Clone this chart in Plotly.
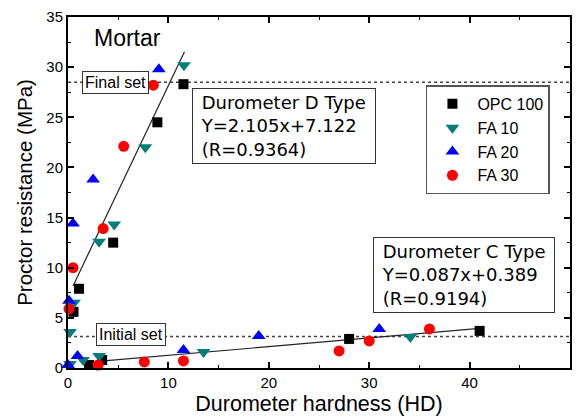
import plotly.graph_objects as go

# ---- data ----
opc100_x = [11.5, 8.9, 4.5, 1.1, 0.55, 2.1, 3.4, 28.0, 41.0]
opc100_y = [28.3, 24.5, 12.5, 7.9, 5.6, 0.3, 0.8, 2.9, 3.7]

fa10_x = [11.55, 7.7, 4.6, 3.1, 0.6, 0.2, 0.2, 1.5, 3.1, 13.5, 34.1]
fa10_y = [30.2, 22.0, 14.3, 12.6, 6.5, 3.6, 0.4, 0.8, 1.2, 1.6, 3.1]

fa20_x = [9.05, 2.5, 0.5, 0.1, 0.0, 0.95, 11.5, 19.0, 31.0]
fa20_y = [29.8, 18.8, 14.4, 6.7, 0.3, 1.2, 1.8, 3.2, 3.9]

fa30_x = [8.5, 5.55, 3.5, 0.5, 0.1, 3.0, 7.6, 11.5, 27.0, 30.0, 36.0]
fa30_y = [28.2, 22.1, 13.9, 10.0, 5.9, 0.3, 0.6, 0.7, 1.7, 2.7, 3.9]

# regression fits (slope, intercept, x-range)
d_fit = (2.105, 7.122, [0.5, 11.6])
c_fit = (0.087, 0.389, [3.3, 41.0])

final_set = 28.5
initial_set = 3.15

x_ticks = [0, 10, 20, 30, 40, 50]
y_ticks = [0, 5, 10, 15, 20, 25, 30, 35]

NARROW = "Liberation Sans, Arial, sans-serif"
PLAIN = "Liberation Sans, Arial, sans-serif"
BOXF = "DejaVu Sans, Verdana, sans-serif"
SP = "\u00a0"

fig = go.Figure()

# reference lines
fig.add_trace(go.Scatter(x=[0, 50], y=[final_set, final_set], mode="lines",
                         line=dict(color="#444", width=1.5, dash="dot"),
                         showlegend=False, hoverinfo="skip"))
fig.add_trace(go.Scatter(x=[0, 50], y=[initial_set, initial_set], mode="lines",
                         line=dict(color="#444", width=1.5, dash="dot"),
                         showlegend=False, hoverinfo="skip"))

# fit lines
for slope, icpt, xr in (d_fit, c_fit):
    fig.add_trace(go.Scatter(x=xr, y=[slope * v + icpt for v in xr], mode="lines",
                             line=dict(color="#222", width=1.2),
                             showlegend=False, hoverinfo="skip"))

series = [
    ("OPC 100", opc100_x, opc100_y, "square", "#000000", 10),
    ("FA 10", fa10_x, fa10_y, "triangle-down", "#007f7a", 12),
    ("FA 20", fa20_x, fa20_y, "triangle-up", "#0000ff", 12),
    ("FA 30", fa30_x, fa30_y, "circle", "#ff0000", 11),
]
for name, xs, ys, sym, col, sz in series:
    fig.add_trace(go.Scatter(x=xs, y=ys, mode="markers", name=name,
                             marker=dict(symbol=sym, color=col, size=sz, line=dict(width=0)),
                             cliponaxis=False))

axis_common = dict(showline=True, linecolor="black", linewidth=2, mirror="allticks",
                   ticks="inside", ticklen=6, tickwidth=1.5, tickcolor="black",
                   showgrid=False, zeroline=False, automargin=False,
                   tickfont=dict(family=PLAIN, size=15, color="black"))

fig.update_xaxes(range=[0, 50], tickvals=x_ticks,
                 minor=dict(ticks="inside", ticklen=3, dtick=5, tickcolor="black", tickwidth=1.2),
                 title=dict(text="Durometer hardness (HD)", font=dict(family=NARROW, size=21.5, color="black"),
                            standoff=6),
                 **axis_common)
fig.update_yaxes(range=[0, 35], tickvals=y_ticks,
                 minor=dict(ticks="inside", ticklen=3, dtick=2.5, tickcolor="black", tickwidth=1.2),
                 title=dict(text="Proctor resistance (MPa)", font=dict(family=NARROW, size=20.5, color="black"),
                            standoff=8),
                 **axis_common)


def box_text(lines):
    return "<br>".join(SP + ln + SP for ln in lines)


annos = [
    dict(x=4.7, y=28.46, text="Final set", xanchor="center", yanchor="middle",
         font=dict(family=NARROW, size=16, color="black"), bgcolor="white",
         bordercolor="#333", borderwidth=1, borderpad=2),
    dict(x=6.3, y=3.39, text="Initial set", xanchor="center", yanchor="middle",
         font=dict(family=NARROW, size=16, color="black"), bgcolor="white",
         bordercolor="#333", borderwidth=1, borderpad=2),
    dict(x=12.35, y=27.95, text=box_text(["Durometer D Type", "Y=2.105x+7.122", "(R=0.9364)"]),
         xanchor="left", yanchor="top", align="left",
         font=dict(family=BOXF, size=18, color="black"), bgcolor="white",
         bordercolor="#333", borderwidth=1, borderpad=3),
    dict(x=30.4, y=13.1, text=box_text(["Durometer C Type", "Y=0.087x+0.389", "(R=0.9194)"]),
         xanchor="left", yanchor="top", align="left",
         font=dict(family=BOXF, size=18, color="black"), bgcolor="white",
         bordercolor="#333", borderwidth=1, borderpad=3),
    dict(x=2.4, y=32.9, text="Mortar", xanchor="left", yanchor="middle",
         font=dict(family=NARROW, size=23, color="black")),
]
for a in annos:
    a.update(xref="x", yref="y", showarrow=False)
fig.update_layout(annotations=annos)

fig.update_layout(
    width=578, height=418,
    margin=dict(l=68, r=8, t=17, b=50),
    paper_bgcolor="white", plot_bgcolor="white",
    legend=dict(x=0.713, y=0.805, xanchor="left", yanchor="top",
                bordercolor="#555", borderwidth=1.5, bgcolor="white",
                font=dict(family=NARROW, size=16, color="black"),
                itemwidth=40),
)

fig.write_html("out.html")
